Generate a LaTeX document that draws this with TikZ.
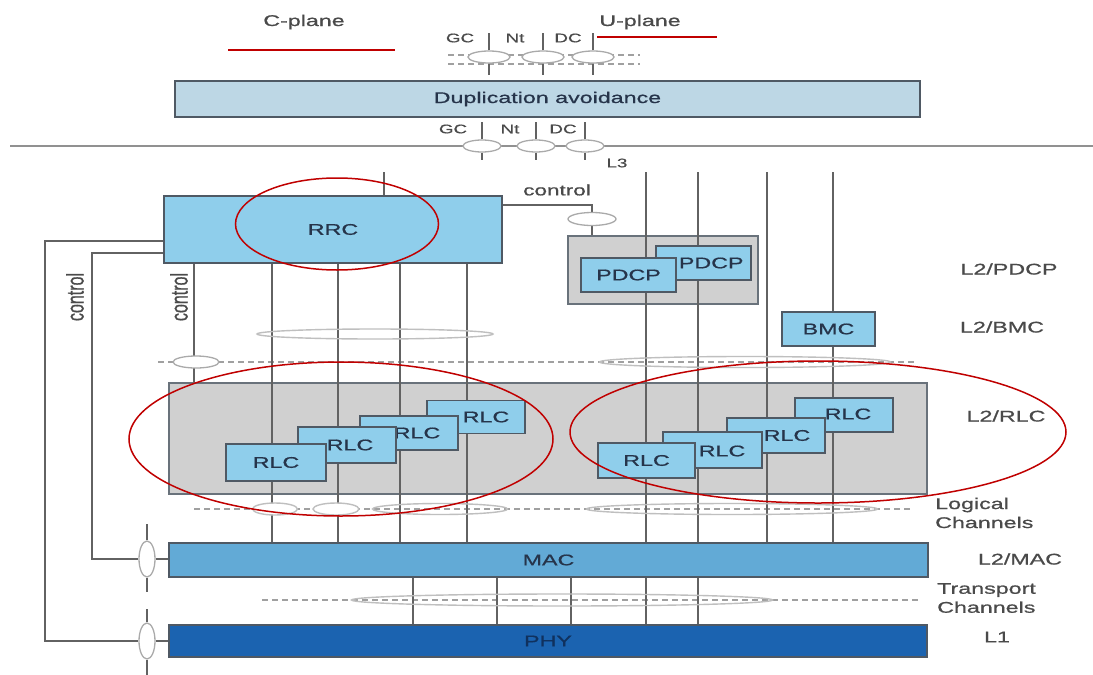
\documentclass[tikz,border=0pt]{standalone}
\usepackage{fontspec}
\setmainfont{Liberation Sans}[FakeStretch=1.5, FakeBold=0.8]
\newfontfamily\uprightlabel{Liberation Sans}[FakeBold=0.8]
\usetikzlibrary{shapes.geometric}

\definecolor{lineg}{HTML}{626262}
\definecolor{dashg}{HTML}{A0A0A0}
\definecolor{ovalg}{HTML}{AAAAAA}
\definecolor{edgeg}{HTML}{4F5964}
\definecolor{boxblue}{HTML}{8FCEEB}
\definecolor{dupblue}{HTML}{BDD7E5}
\definecolor{macblue}{HTML}{62AAD6}
\definecolor{phyblue}{HTML}{1B63B0}
\definecolor{grayfill}{HTML}{D0D0D0}
\definecolor{inktext}{HTML}{26344A}
\definecolor{phyink}{HTML}{10315E}
\definecolor{sidetext}{HTML}{4A4A4A}
\definecolor{markred}{HTML}{C00000}

\pgfdeclarelayer{paper}
\pgfdeclarelayer{trays}
\pgfdeclarelayer{wires}
\pgfsetlayers{paper,trays,wires,main}

\begin{document}
\begin{tikzpicture}[x=1pt,y=-1pt,
  txt/.style={font=\fontsize{15.5}{19}\selectfont, inner sep=0pt},
  sidelbl/.style={txt, text=sidetext},
  gclbl/.style={font=\fontsize{12.5}{14}\selectfont, inner sep=0pt, text=sidetext},
  blk/.style={draw=edgeg, line width=1.5pt, fill=boxblue, inner sep=0pt, txt, text=inktext},
  tray/.style={draw=edgeg!85, line width=1.5pt, fill=grayfill, inner sep=0pt},
  wire/.style={draw=lineg, line width=1.7pt},
  dashline/.style={draw=dashg, line width=1.5pt, dash pattern=on 6pt off 4pt},
  ring/.style={ellipse, draw=ovalg, line width=1.3pt, fill=white, inner sep=0pt},
  band/.style={ellipse, draw=ovalg!75, line width=1.4pt, inner sep=0pt},
  redring/.style={ellipse, draw=markred, line width=1.5pt, inner sep=0pt},
  sidecontrol/.style={rotate=90, yscale=1.5, inner sep=0pt, text=sidetext, font=\uprightlabel\fontsize{16}{18}\selectfont},
]
\begin{pgfonlayer}{paper}
  \fill[white] (0,0) rectangle (1093,675);
\end{pgfonlayer}
\useasboundingbox (0,0) rectangle (1093,675);

% ---------- plane titles ----------
\node[sidelbl] (cplane) at (304,22) {C-plane};
\node[sidelbl] (uplane) at (640,22) {U-plane};
\coordinate (cl1) at (228,50); \coordinate (cl2) at (395,50);
\coordinate (ul1) at (597,37); \coordinate (ul2) at (717,37);
\draw[markred, line width=1.5pt] (cl1) -- (cl2);
\draw[markred, line width=1.5pt] (ul1) -- (ul2);

% ---------- service access points above duplication avoidance ----------
\node[gclbl] (gcA) at (460,38) {GC};
\node[gclbl] (ntA) at (515,38) {Nt};
\node[gclbl] (dcA) at (568,38) {DC};
\node[ring, minimum width=42, minimum height=12] (tA) at (489,57) {};
\node[ring, minimum width=42, minimum height=12] (tB) at (543,57) {};
\node[ring, minimum width=42, minimum height=12] (tC) at (593,57) {};
\coordinate (da1) at (448,55); \coordinate (da2) at (640,55);
\coordinate (db1) at (448,64); \coordinate (db2) at (640,64);
\begin{pgfonlayer}{wires}
  \draw[dashline] (da1) -- (da2);
  \draw[dashline] (db1) -- (db2);
\end{pgfonlayer}
\foreach \o in {tA,tB,tC}{
  \draw[wire] (\o.north) -- ++(0,-17);
  \draw[wire] (\o.south) -- ++(0,11);
}

% ---------- duplication avoidance ----------
\node[blk, fill=dupblue, minimum width=745, minimum height=36] (dup) at (547.5,99) {Duplication avoidance};

% ---------- L3 boundary ----------
\node[gclbl] (gcB) at (453,129) {GC};
\node[gclbl] (ntB) at (510,129) {Nt};
\node[gclbl] (dcB) at (563,129) {DC};
\coordinate (l3a) at (10,146); \coordinate (l3b) at (1093,146);
\begin{pgfonlayer}{wires}
  \draw[draw=lineg!70, line width=1.8pt] (l3a) -- (l3b);
\end{pgfonlayer}
\node[ring, minimum width=38, minimum height=12] (mA) at (482,146) {};
\node[ring, minimum width=38, minimum height=12] (mB) at (536,146) {};
\node[ring, minimum width=38, minimum height=12] (mC) at (585,146) {};
\foreach \o in {mA,mB,mC}{
  \draw[wire] (\o.north) -- ++(0,-17);
  \draw[wire] (\o.south) -- ++(0,7);
}
\node[gclbl] (l3) at (617,163) {L3};

% ---------- RRC and PDCP ----------
\node[blk, minimum width=338, minimum height=67] (rrc) at (333,229.5) {RRC};
\node[sidelbl, font=\fontsize{15}{18}\selectfont] (ctltxt) at (557,190) {control};
\node[ring, minimum width=48, minimum height=13] (ctlov) at (592,219) {};
\begin{pgfonlayer}{trays}
  \node[tray, minimum width=190, minimum height=68] (pdcpg) at (663,270) {};
  \node[tray, minimum width=758, minimum height=111] (rlcg) at (548,438.5) {};
\end{pgfonlayer}
\node[blk, minimum width=95, minimum height=34, text width=80, align=right] (pdcpB) at (703.5,263) {PDCP};
\node[blk, minimum width=95, minimum height=34] (pdcpA) at (628.5,275) {PDCP};
\node[blk, minimum width=93, minimum height=34] (bmc) at (828.5,329) {BMC};

% ---------- RLC entities (back to front) ----------
\node[blk, minimum width=98, minimum height=33] (rlcL4) at (476,417) {};
\node[txt, text=inktext] at (486,417) {RLC};
\node[blk, minimum width=98, minimum height=34] (rlcL3) at (409,433) {};
\node[txt, text=inktext] at (417,433) {RLC};
\node[blk, minimum width=98, minimum height=36] (rlcL2) at (347,445) {};
\node[txt, text=inktext] at (350,445) {RLC};
\node[blk, minimum width=100, minimum height=37] (rlcL1) at (276,462.5) {RLC};

\node[blk, minimum width=98, minimum height=34] (rlcR4) at (844,415) {};
\node[txt, text=inktext] at (848,414) {RLC};
\node[blk, minimum width=98, minimum height=35] (rlcR3) at (776,435.5) {};
\node[txt, text=inktext] at (787,435.5) {RLC};
\node[blk, minimum width=99, minimum height=36] (rlcR2) at (712.5,450) {};
\node[txt, text=inktext] at (722,451) {RLC};
\node[blk, minimum width=97, minimum height=35] (rlcR1) at (646.5,460.5) {RLC};

% ---------- MAC and PHY ----------
\node[blk, fill=macblue, minimum width=759, minimum height=34, text=inktext] (mac) at (548.5,560) {MAC};
\node[blk, fill=phyblue, minimum width=758, minimum height=32, text=phyink] (phy) at (548,641) {PHY};

% ---------- channel bundles ----------
\node[band, minimum width=236, minimum height=10] (bRrc) at (375,334) {};
\node[ring, minimum width=46, minimum height=12] (bCtl) at (196,362) {};
\node[band, minimum width=291, minimum height=11] (bRight) at (745,362) {};
\node[band, fill=white, minimum width=45, minimum height=12] (lg1) at (275,509) {};
\node[band, fill=white, minimum width=46, minimum height=12] (lg2) at (336,509) {};
\node[band, minimum width=135, minimum height=11] (lg3) at (440,509) {};
\node[band, minimum width=291, minimum height=11] (lg4) at (732,509) {};
\node[band, minimum width=421, minimum height=12] (tr) at (562,600) {};

\coordinate (r1a) at (158,362); \coordinate (r1b) at (915,362);
\coordinate (r2a) at (194,509); \coordinate (r2b) at (910,509);
\coordinate (r3a) at (262,600); \coordinate (r3b) at (918,600);

% ---------- vertical channel wires ----------
\coordinate (ca) at (384,172);
\coordinate (ua) at (646,172); \coordinate (ub) at (698,172);
\coordinate (uc) at (767,172); \coordinate (ud) at (833,172);
\coordinate (kx) at (194,0);
\coordinate (k1) at (502,205);
\begin{pgfonlayer}{wires}
  \draw[dashline] (r1a) -- (r1b);
  \draw[dashline] (r2a) -- (r2b);
  \draw[dashline] (r3a) -- (r3b);
  \draw[wire] (ca) -- (rrc.north -| ca);
  \foreach \x in {272,338,400,467}{
    \draw[wire] (rrc.south -| \x,0) -- (mac.north -| \x,0);
  }
  \draw[wire] (rrc.south -| kx) -- (rlcg.north -| kx);
  \foreach \c in {ua,ub,uc}{
    \draw[wire] (\c) -- (mac.north -| \c);
  }
  \draw[wire] (ud) -- (bmc.north -| ud);
  \draw[wire] (bmc.south -| ud) -- (mac.north -| ud);
  \foreach \x in {413,497,571,646,698}{
    \draw[wire] (mac.south -| \x,0) -- (phy.north -| \x,0);
  }
  \draw[wire] (k1) -| (ctlov.north);
  \draw[wire] (ctlov.south) -- (pdcpg.north -| ctlov.south);
\end{pgfonlayer}

% ---------- control paths to MAC and PHY ----------
\node[ring, minimum width=16, minimum height=36] (macov) at (147,559) {};
\node[ring, minimum width=16, minimum height=36] (phyov) at (147,641) {};
\draw[wire] (rrc.west |- 0,241) -- (45,241) |- (phyov.west);
\draw[wire] (phyov.east) -- (phy.west |- phyov.east);
\draw[wire] (rrc.west |- 0,253) -- (92,253) |- (macov.west);
\draw[wire] (macov.east) -- (mac.west |- macov.east);
\draw[wire] (macov.north) -- ++(0,-16);
\draw[wire] (macov.south) -- ++(0,14);
\draw[wire] (phyov.north) -- ++(0,-13);
\draw[wire] (phyov.south) -- ++(0,16);
\node[sidecontrol] (ctlout) at (75,297) {control};
\node[sidecontrol] (ctlin) at (179,297) {control};

% ---------- layer names ----------
\node[sidelbl] (nPdcp) at (1009,269) {L2/PDCP};
\node[sidelbl] (nBmc) at (1002,327) {L2/BMC};
\node[sidelbl] (nRlc) at (1006,416) {L2/RLC};
\node[sidelbl, anchor=west, align=left] (nLog) at (935,513) {Logical\\Channels};
\node[sidelbl] (nMac) at (1020,559) {L2/MAC};
\node[sidelbl, anchor=west, align=left] (nTr) at (937,598) {Transport\\Channels};
\node[sidelbl] (nL1) at (997,637) {L1};

% ---------- highlight rings ----------
\node[redring, minimum width=203, minimum height=92] (hRrc) at (337,224) {};
\node[redring, minimum width=424, minimum height=154] (hLeft) at (341,439) {};
\node[redring, minimum width=496, minimum height=142] (hRight) at (818,432) {};
\end{tikzpicture}
\end{document}
